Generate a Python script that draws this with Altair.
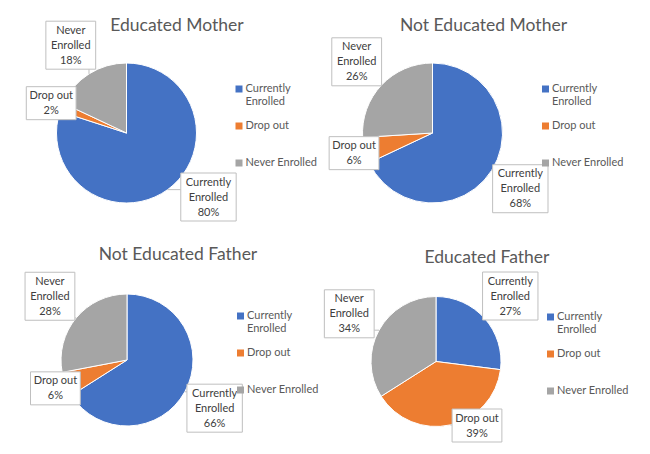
import altair as alt
import pandas as pd

# ---- data ----
categories = ["Currently Enrolled", "Drop out", "Never Enrolled"]
category_lines = [["Currently", "Enrolled"], ["Drop out"], ["Never", "Enrolled"]]
titles = ["Educated Mother", "Not Educated Mother", "Not Educated Father", "Educated Father"]
educated_mother = [80, 2, 18]
not_educated_mother = [68, 6, 26]
not_educated_father = [66, 6, 28]
educated_father = [27, 39, 34]
series = [educated_mother, not_educated_mother, not_educated_father, educated_father]
colors = ["#4472C4", "#ED7D31", "#A5A5A5"]

FONT = "Lato"

# ---- layout (panel-local pixels) ----
layout = [
    dict(cx=118.5, cy=125, r=70, tdx=10.5, tdy=35.5, lgx=225.5, lgy=75.5, ymax=213),
    dict(cx=107.5, cy=125, r=70, tdx=0, tdy=35.5, lgx=215, lgy=75.5, ymax=213),
    dict(cx=119, cy=133, r=66, tdx=11.5, tdy=45.5, lgx=227, lgy=83.5, ymax=215),
    dict(cx=111, cy=134.5, r=65, tdx=3.5, tdy=48.5, lgx=220, lgy=84.5, ymax=215),
]
PANEL_W = 317
ROW_H = [219, 211]


def panel(values, title, L, h):
    lines = [ls + [f"{v}%"] for ls, v in zip(category_lines, values)]
    df = pd.DataFrame({
        "category": categories,
        "value": values,
        "order": list(range(len(categories))),
        "label": ["|".join(ls) for ls in lines],
        "nlines": [len(ls) for ls in lines],
        "maxlen": [max(len(s) for s in ls) for ls in lines],
    })
    base = alt.Chart(df)
    arc = base.mark_arc(outerRadius=L["r"], stroke="white", strokeWidth=1).encode(
        theta=alt.Theta("value:Q", stack=True),
        order=alt.Order("order:Q"),
        color=alt.Color(
            "category:N",
            sort=categories,
            scale=alt.Scale(domain=categories, range=colors),
            legend=alt.Legend(
                title=None,
                orient="none",
                legendX=L["lgx"],
                legendY=L["lgy"],
                direction="vertical",
                gridAlign="all",
                symbolType="square",
                symbolSize=49,
                symbolStrokeWidth=0,
                labelFont=FONT,
                labelFontSize=11,
                labelColor="#595959",
                labelOffset=1,
                labelLimit=200,
                rowPadding=12,
                padding=0,
                labelExpr="datum.label == 'Currently Enrolled' ? ['Currently', 'Enrolled'] : datum.label",
            ),
        ),
        x=alt.value(L["cx"]),
        y=alt.value(L["cy"]),
    )
    cx, cy, r = L["cx"], L["cy"], L["r"]
    lab = base.transform_joinaggregate(total="sum(value)").transform_window(
        cum="sum(value)", sort=[alt.SortField("order")], frame=[None, 0]
    ).transform_calculate(
        mid="2*PI*(datum.cum - datum.value/2)/datum.total",
        dist=f"{r} + (datum.nlines == 3 ? 34 : 11)",
        bw="5.6*datum.maxlen + 5",
        bh="datum.nlines*15 + 3",
        py0=f"{cy} - datum.dist*cos(datum.mid)",
        py=f"min(datum.py0, {L['ymax']} - datum.bh/2)",
        px=(
            f"datum.py == datum.py0 ? {cx} + datum.dist*sin(datum.mid) : "
            f"{cx} + (sin(datum.mid) >= 0 ? 1 : -1)*sqrt(max(datum.dist*datum.dist - "
            f"(datum.py - {cy})*(datum.py - {cy}), 0))"
        ),
        bx1="datum.px - datum.bw/2",
        bx2="datum.px + datum.bw/2",
        by1="datum.py - datum.bh/2",
        by2="datum.py + datum.bh/2",
        ty="datum.by1 + 9.5",
        ex=f"{cx} + {r}*sin(datum.mid)",
        ey=f"{cy} - {r}*cos(datum.mid)",
        nx="clamp(datum.ex, datum.bx1, datum.bx2)",
        ny="clamp(datum.ey, datum.by1, datum.by2)",
        txt="split(datum.label, '|')",
    )
    leader = lab.mark_rule(color="#BFBFBF", strokeWidth=1).encode(
        x=alt.X("ex:Q", scale=None),
        x2="nx:Q",
        y=alt.Y("ey:Q", scale=None),
        y2="ny:Q",
    )
    box = lab.mark_rect(fill="white", stroke="#BFBFBF", strokeWidth=1).encode(
        x=alt.X("bx1:Q", scale=None),
        x2="bx2:Q",
        y=alt.Y("by1:Q", scale=None),
        y2="by2:Q",
    )
    text = lab.mark_text(
        font=FONT, fontSize=11, color="#404040", lineHeight=15,
        align="center", baseline="middle",
    ).encode(
        x=alt.X("px:Q", scale=None),
        y=alt.Y("ty:Q", scale=None),
        text="txt:N",
    )
    return alt.layer(arc, leader, box, text).properties(
        width=PANEL_W,
        height=h,
        title=alt.TitleParams(
            text=title, font=FONT, fontSize=17.5, fontWeight="normal", color="#595959",
            anchor="middle", frame="group", offset=0, baseline="middle",
            dx=L["tdx"], dy=L["tdy"],
        ),
    )


panels = [panel(series[i], titles[i], layout[i], ROW_H[i // 2]) for i in range(4)]
chart = alt.concat(*panels, columns=2, spacing=0, bounds="flush").resolve_scale(
    color="independent"
).configure_view(stroke=None).properties(padding=0, background="white")

chart.save("out.html", embed_options={"renderer": "svg", "actions": False})
